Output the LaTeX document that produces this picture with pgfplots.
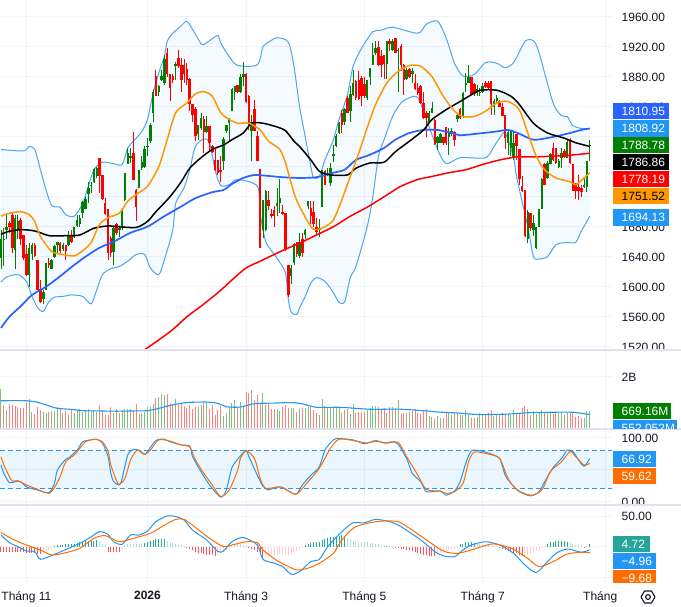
\documentclass[border=0pt]{standalone}
\usepackage{fontspec}
\setmainfont{Liberation Sans}
\usepackage{pgfplots}
\usepackage{pgfplotstable}
\pgfplotsset{compat=1.18}
\usepgfplotslibrary{fillbetween}

\definecolor{txt}{HTML}{131722}
\definecolor{gridc}{HTML}{F0F3FA}
\definecolor{sepc}{HTML}{E0E3EB}
\definecolor{cup}{HTML}{008000}
\definecolor{cdown}{HTML}{FF0000}
\definecolor{volup}{HTML}{7FBF7F}
\definecolor{voldown}{HTML}{FF8080}
\definecolor{bbline}{HTML}{4DA6EE}
\definecolor{ltblue}{HTML}{2196F3}
\definecolor{ma100}{HTML}{2962FF}
\definecolor{ma20}{HTML}{FF9800}
\definecolor{dorange}{HTML}{FF6D00}
\definecolor{histg}{HTML}{26A69A}
\definecolor{histlg}{HTML}{B2DFDB}
\definecolor{histr}{HTML}{FF5252}
\definecolor{histlr}{HTML}{FFCDD2}

% candles: bar index, open, high, low, close
\pgfplotstableread{
i o h l c
0 1638 1676 1623 1663
1 1662 1678 1627 1664
2 1676 1698 1663 1680
5 1649 1696 1623 1692
6 1676 1696 1663 1687
10 1616 1658 1600 1652
11 1643 1658 1636 1656
15 1584 1596 1577 1593
16 1596 1632 1596 1632
18 1624 1637 1623 1636
19 1640 1655 1638 1654
20 1656 1660 1645 1659
22 1650 1658 1647 1656
24 1655 1674 1654 1668
26 1666 1680 1665 1680
27 1681 1695 1680 1689
28 1683 1696 1680 1691
29 1698 1714 1691 1713
30 1704 1720 1703 1717
31 1724 1740 1712 1732
32 1734 1740 1725 1735
33 1740 1758 1738 1757
34 1747 1760 1745 1758
40 1646 1680 1629 1678
42 1676 1680 1666 1678
43 1678 1705 1676 1704
44 1716 1752 1714 1751
45 1764 1785 1763 1778
46 1772 1785 1765 1774
49 1732 1756 1731 1755
50 1758 1774 1756 1766
51 1760 1787 1758 1784
52 1786 1798 1774 1788
53 1794 1818 1792 1816
54 1832 1863 1820 1860
56 1860 1869 1854 1868
57 1876 1889 1874 1881
58 1872 1909 1869 1904
62 1894 1900 1876 1897
70 1803 1816 1796 1815
71 1811 1832 1809 1825
73 1806 1827 1805 1814
79 1767 1800 1755 1797
80 1808 1816 1805 1815
81 1818 1825 1794 1824
82 1834 1865 1834 1864
83 1860 1868 1849 1868
85 1860 1883 1858 1880
86 1880 1900 1867 1884
89 1808 1829 1767 1819
93 1675 1716 1665 1716
94 1675 1729 1674 1728
98 1707 1732 1694 1711
99 1712 1743 1698 1718
103 1614 1629 1603 1625
104 1632 1658 1629 1657
106 1641 1672 1638 1660
108 1669 1677 1663 1675
109 1707 1714 1703 1714
113 1676 1690 1666 1678
114 1706 1756 1706 1755
116 1749 1758 1747 1751
117 1738 1765 1734 1758
118 1774 1789 1766 1777
119 1787 1803 1786 1801
120 1805 1820 1804 1818
122 1819 1838 1816 1837
124 1834 1867 1820 1857
125 1856 1889 1854 1872
130 1852 1876 1849 1876
131 1880 1892 1869 1892
132 1896 1925 1895 1909
133 1912 1927 1909 1918
137 1897 1927 1877 1927
139 1916 1930 1914 1928
141 1914 1918 1860 1916
144 1877 1892 1876 1889
146 1883 1892 1872 1888
152 1820 1834 1818 1832
153 1832 1846 1831 1838
155 1791 1801 1782 1800
156 1792 1805 1791 1803
159 1800 1812 1776 1805
160 1804 1812 1801 1807
162 1823 1831 1820 1829
164 1826 1859 1825 1858
165 1869 1885 1859 1872
166 1872 1895 1872 1880
169 1858 1869 1854 1864
170 1858 1865 1854 1860
171 1859 1871 1858 1868
175 1840 1850 1829 1847
176 1847 1855 1845 1852
180 1792 1807 1776 1806
181 1785 1807 1774 1807
182 1772 1807 1769 1792
187 1664 1702 1658 1699
189 1675 1696 1667 1685
190 1652 1680 1650 1680
191 1680 1704 1680 1704
192 1704 1745 1703 1744
194 1745 1767 1744 1765
195 1764 1778 1763 1777
198 1760 1770 1758 1768
199 1772 1785 1758 1778
201 1772 1796 1772 1793
207 1733 1745 1732 1736
208 1733 1768 1726 1768
209 1787 1796 1768 1789
}\upbars

\pgfplotstableread{
i o h l c
3 1685 1687 1672 1680
4 1696 1698 1645 1652
7 1689 1691 1656 1663
8 1669 1669 1636 1638
9 1644 1656 1614 1616
12 1656 1658 1640 1641
13 1636 1636 1596 1596
14 1597 1609 1578 1579
17 1632 1638 1625 1629
21 1658 1660 1645 1647
23 1655 1656 1635 1648
25 1668 1676 1658 1659
35 1772 1772 1725 1747
36 1749 1749 1716 1717
37 1711 1718 1696 1697
38 1703 1703 1636 1645
39 1665 1668 1640 1645
41 1683 1685 1669 1672
47 1778 1806 1742 1742
48 1729 1730 1687 1706
55 1881 1889 1854 1854
59 1912 1918 1880 1883
60 1884 1884 1847 1865
61 1881 1884 1872 1876
63 1905 1916 1892 1894
64 1896 1905 1860 1876
65 1896 1903 1872 1883
66 1890 1898 1869 1876
67 1877 1878 1834 1843
68 1844 1844 1820 1829
69 1837 1840 1794 1801
72 1823 1827 1778 1806
74 1814 1814 1780 1792
75 1787 1789 1778 1780
76 1769 1783 1754 1755
77 1769 1769 1749 1752
78 1756 1774 1740 1753
84 1869 1869 1858 1860
87 1884 1885 1845 1846
88 1854 1855 1809 1815
90 1837 1849 1807 1808
91 1801 1807 1767 1767
92 1757 1757 1652 1652
95 1716 1727 1702 1708
96 1697 1703 1692 1694
97 1702 1707 1680 1694
100 1700 1709 1696 1697
101 1698 1698 1647 1649
102 1629 1629 1586 1589
105 1660 1660 1640 1643
107 1663 1672 1640 1645
110 1705 1714 1683 1694
111 1700 1714 1680 1684
112 1680 1692 1669 1673
115 1754 1756 1735 1736
121 1832 1836 1805 1816
123 1852 1854 1832 1832
126 1874 1876 1849 1852
127 1876 1888 1849 1850
128 1878 1881 1841 1854
129 1870 1880 1852 1854
134 1920 1927 1894 1895
135 1907 1916 1880 1896
136 1909 1909 1877 1897
138 1928 1930 1914 1923
140 1932 1932 1912 1912
142 1921 1923 1887 1896
143 1896 1897 1856 1876
145 1890 1892 1878 1880
147 1871 1883 1862 1864
148 1865 1872 1856 1858
149 1868 1869 1843 1845
150 1845 1859 1823 1825
151 1832 1834 1800 1825
154 1822 1823 1789 1790
157 1800 1800 1789 1791
158 1813 1813 1789 1791
161 1806 1807 1788 1795
163 1837 1838 1824 1825
167 1880 1880 1855 1856
168 1870 1872 1854 1857
172 1871 1874 1865 1866
173 1872 1874 1863 1865
174 1874 1874 1829 1843
177 1847 1849 1839 1840
178 1840 1845 1827 1828
179 1829 1829 1783 1798
183 1803 1803 1769 1787
184 1783 1783 1736 1743
185 1734 1747 1726 1728
186 1729 1729 1666 1667
188 1698 1698 1674 1678
193 1764 1765 1735 1735
196 1785 1791 1768 1769
197 1785 1785 1764 1765
200 1781 1783 1772 1773
202 1794 1798 1764 1765
203 1764 1764 1727 1728
204 1738 1738 1717 1727
205 1733 1749 1716 1727
206 1732 1735 1720 1726
}\downbars

% volume in billions
\pgfplotstableread{
i v
0 1.52
2 .73
10 1.13
11 .66
15 .66
16 .60
18 .69
19 .70
20 .83
22 .62
24 .54
26 .60
27 .73
28 .75
29 .66
30 .69
31 .75
32 .69
33 .73
34 .66
40 .62
42 .60
43 .73
44 .76
45 .75
46 .75
49 .56
50 .60
51 .66
52 .85
53 .85
54 .96
56 1.24
57 1.34
58 1.30
62 1.15
70 .83
71 .92
73 1.04
79 .50
80 .60
81 .79
82 .98
83 1.11
85 1.04
86 .85
89 1.49
93 1.39
94 .92
98 .75
99 .70
103 .79
104 .82
106 .75
108 .82
109 .85
113 .54
114 1.15
116 .83
117 .85
118 .83
119 .83
120 .79
122 .73
124 .57
125 .96
130 .73
131 .79
132 .88
133 .88
137 .62
139 .85
141 1.11
144 .62
146 .69
152 .50
153 .47
155 .50
156 .41
159 .62
160 .54
162 .60
164 .54
165 .73
166 .54
169 .47
170 .60
171 .57
175 .51
176 .54
180 .57
181 .54
182 .73
187 .75
189 .69
190 .57
191 .60
192 .73
194 .62
195 .66
198 .60
199 .64
201 .60
207 .43
208 .69
209 .67
}\volup

\pgfplotstableread{
i v
1 .92
3 .96
4 .92
5 .88
6 .83
7 .80
8 .79
9 1.01
12 .57
13 .85
14 .73
17 .66
21 .79
23 .69
25 .75
35 .92
36 .73
37 .54
38 .54
39 .83
41 .75
47 .70
48 .96
55 1.20
59 1.34
60 .98
61 .92
63 .92
64 .98
65 .88
66 .79
67 .92
68 .75
69 .85
72 .98
74 .75
75 .92
76 .54
77 .73
78 .88
84 .79
87 1.43
88 1.39
90 1.11
91 1.30
92 .98
95 .98
96 .75
97 .75
100 .85
101 .92
102 .79
105 .66
107 .79
110 .83
111 .73
112 .60
115 .89
121 .62
123 .75
126 .60
127 .64
128 .66
129 .66
134 .85
135 .73
136 .79
138 .83
140 .79
142 .57
143 .60
145 .66
147 .75
148 .62
149 .57
150 .73
151 .75
154 .37
157 .43
158 .60
161 .66
163 .54
167 .41
168 .43
172 .57
173 .62
174 .73
177 .54
178 .60
179 .56
183 .62
184 .60
185 .79
186 .88
188 .54
193 .66
196 .56
197 .66
200 .54
202 .60
203 .66
204 .47
205 .50
206 .41
}\voldown

\newcommand{\pricetag}[6]{%
  \fill[#4] (613pt,-#1pt) rectangle (#3pt,-#2pt);
  \node[anchor=west,inner sep=0pt,text=#5,font=\fontsize{12}{14}\selectfont] at (621.5pt,{-(#1+#2)/2*1pt}) {#6};
}

\pgfplotsset{
  panel/.style={
    anchor=north west, scale only axis, width=612pt,
    xmin=-0.355, xmax=216.9,
    xtick={9,52,87,129,171,214.5}, xticklabels={},
    grid=major, grid style={draw=gridc,line width=0.8pt},
    axis line style={draw=none}, major tick length=0pt,
    yticklabel pos=right,
    yticklabel style={anchor=west,inner sep=0pt,xshift=9.5pt,yshift=-0.7pt,text=txt,
      font=\fontsize{12}{14}\selectfont},
  },
  ln/.style={smooth,tension=0.45,line join=round},
  wick/.style={draw=none,no markers,forget plot,
    error bars/y dir=plus,error bars/y explicit,error bars/error mark=none,
    error bars/error bar style={draw=#1,line width=0.9pt}},
  body/.style={draw=none,no markers,forget plot,
    error bars/y dir=plus,error bars/y explicit,error bars/error mark=none,
    error bars/error bar style={draw=#1,line width=2.5pt}},
}

\begin{document}
\begin{tikzpicture}

% price panel
\begin{axis}[panel, at={(0pt,0pt)}, height=350pt,
  ymin=1515.6, ymax=1982.3, ytick={1520,1560,...,1960},
  yticklabels={1520.00,1560.00,1600.00,1640.00,1680.00,,,,1840.00,1880.00,1920.00,1960.00}]
\addplot[name path=bbup, bbline, ln, line width=1pt] coordinates {
(0,1783)(8,1781)(10,1787)(12,1783)(14,1756)(16,1729)(18,1708)(21,1706)(23,1696)(26,1694)
(29,1711)(31,1734)(33,1756)(36,1766)(40,1764)(43,1763)(45,1785)(47,1794)(50,1807)(52,1823)
(54,1858)(56,1885)(58,1907)(59,1927)(61,1938)(64,1948)(66,1954)(68,1943)(71,1924)(72,1923)
(74,1928)(77,1935)(78,1925)(81,1907)(84,1895)(91,1896)(93,1920)(95,1926)(98,1932)(102,1926)
(104,1894)(106,1840)(108,1800)(110,1760)(111,1745)(113,1747)(115,1769)(118,1796)(120,1823)
(123,1856)(125,1894)(128,1918)(132,1940)(135,1942)(139,1946)(148,1938)(151,1950)(155,1954)
(158,1932)(161,1898)(164,1881)(168,1883)(172,1899)(176,1898)(179,1892)(182,1899)(186,1927)
(189,1928)(191,1912)(196,1845)(199,1828)(201,1827)(203,1815)(206,1811)(209,1811)};
\addplot[name path=bblo, bbline, ln, line width=1pt] coordinates {
(0,1606)(2,1613)(6,1616)(9,1607)(11,1587)(13,1572)(15,1567)(17,1580)(19,1586)(22,1587)
(25,1589)(29,1587)(32,1577)(34,1596)(36,1616)(39,1624)(42,1627)(45,1634)(48,1643)(51,1643)
(53,1625)(56,1616)(58,1636)(61,1676)(62,1711)(65,1732)(67,1756)(69,1787)(72,1797)(74,1792)
(76,1756)(78,1735)(81,1736)(84,1743)(91,1734)(92,1698)(94,1660)(98,1638)(101,1618)(102,1583)
(103,1566)(105,1563)(106,1572)(108,1587)(110,1605)(112,1612)(115,1607)(118,1592)(120,1579)
(122,1580)(124,1612)(126,1627)(130,1680)(132,1720)(134,1774)(136,1796)(139,1827)(142,1845)
(145,1852)(148,1852)(151,1823)(155,1783)(158,1764)(163,1772)(172,1772)(175,1787)(177,1798)
(179,1805)(182,1772)(183,1747)(187,1680)(189,1640)(191,1637)(194,1640)(197,1656)(201,1659)
(204,1659)(206,1674)(208,1687)(209,1694)};
\addplot[ltblue, fill opacity=0.05, draw=none] fill between[of=bbup and bblo];

% wicks
\addplot[wick=cup] table[x=i, y=l, y error expr=\thisrow{h}-\thisrow{l}] {\upbars};
\addplot[wick=cdown] table[x=i, y=l, y error expr=\thisrow{h}-\thisrow{l}] {\downbars};
% bodies
\addplot[body=cup] table[x=i, y=o, y error expr=\thisrow{c}-\thisrow{o}] {\upbars};
\addplot[body=cdown] table[x=i, y=c, y error expr=\thisrow{o}-\thisrow{c}] {\downbars};

% red long average
\addplot[cdown, ln, line width=1.5pt] coordinates {
(51,1516)(56,1529)(61,1543)(66,1560)(71,1574)(77,1592)(82,1609)(87,1625)(92,1634)(97,1643)
(101,1650)(106,1658)(112,1669)(118,1680)(124,1694)(130,1706)(136,1720)(142,1734)(148,1743)
(153,1747)(159,1752)(165,1756)(171,1763)(177,1769)(183,1773)(189,1773)(195,1774)(201,1775)(209,1778)};
% blue
\addplot[ma100, ln, line width=1.7pt] coordinates {
(0,1545)(3,1560)(7,1574)(11,1589)(16,1600)(21,1614)(26,1629)(30,1640)(35,1652)(40,1660)
(46,1672)(52,1680)(58,1694)(64,1707)(69,1718)(75,1726)(79,1729)(82,1737)(86,1745)(90,1749)
(94,1748)(100,1746)(106,1745)(112,1746)(118,1752)(122,1756)(126,1769)(131,1776)(136,1785)
(140,1796)(145,1805)(150,1809)(155,1809)(160,1805)(163,1802)(169,1804)(176,1807)(180,1809)
(184,1804)(189,1796)(195,1799)(201,1804)(206,1809)(209,1811)};
% black
\addplot[black, ln, line width=1.5pt] coordinates {
(0,1670)(3,1674)(7,1676)(11,1675)(14,1672)(17,1668)(23,1668)(28,1669)(33,1678)(38,1681)
(42,1680)(48,1679)(52,1687)(55,1700)(60,1720)(64,1740)(67,1758)(71,1772)(75,1783)(79,1789)
(82,1796)(86,1805)(89,1818)(93,1818)(98,1813)(101,1808)(104,1794)(106,1787)(110,1769)
(113,1754)(117,1749)(123,1749)(126,1758)(131,1765)(136,1766)(140,1780)(145,1794)(150,1809)
(153,1823)(158,1836)(163,1847)(167,1856)(170,1862)(176,1862)(181,1854)(184,1843)(189,1818)
(194,1805)(200,1798)(204,1792)(209,1787)};
% orange
\addplot[ma20, ln, line width=1.5pt] coordinates {
(0,1694)(3,1698)(7,1700)(10,1696)(12,1687)(14,1667)(18,1647)(22,1643)(26,1641)(29,1648)
(32,1659)(35,1683)(38,1692)(42,1698)(45,1714)(48,1723)(52,1734)(56,1760)(59,1796)(62,1832)
(66,1845)(69,1857)(72,1860)(75,1854)(78,1832)(81,1823)(84,1818)(88,1818)(92,1809)(95,1794)
(99,1783)(101,1765)(104,1725)(106,1707)(110,1680)(112,1676)(115,1680)(118,1689)(121,1716)
(124,1747)(127,1778)(130,1812)(133,1843)(137,1872)(141,1887)(145,1895)(149,1894)(153,1880)
(157,1854)(161,1834)(164,1827)(168,1827)(172,1834)(176,1845)(180,1847)(184,1836)(187,1805)
(190,1774)(193,1756)(197,1745)(202,1740)(204,1736)(207,1745)(209,1752)};
\end{axis}

% volume panel
\begin{axis}[panel, at={(0pt,-350pt)}, height=79pt,
  ymin=0, ymax=3.02, ytick={2}, yticklabels={2B}]
\addplot[ycomb, voldown, line width=1pt] table[x=i,y=v] {\voldown};
\addplot[ycomb, volup, line width=1pt] table[x=i,y=v] {\volup};
\addplot[ltblue, ln, line width=1.1pt] coordinates {
(0,1.08)(9,1.08)(13,1.02)(16,.92)(20,.79)(25,.75)(29,.70)(35,.69)(41,.68)(47,.69)(52,.70)
(55,.76)(60,.90)(66,1.01)(73,1.03)(77,.98)(80,.85)(85,.84)(90,.97)(97,.99)(103,1.01)(107,.96)
(112,.83)(120,.83)(126,.79)(132,.75)(141,.76)(150,.70)(155,.65)(162,.61)(168,.56)(171,.55)
(180,.57)(187,.62)(196,.64)(203,.64)(209,.55)};
\end{axis}

% stochastic panel
\begin{axis}[panel, at={(0pt,-429pt)}, height=76pt,
  ymin=-5.2, ymax=112.9, ytick={0,50,100}, yticklabels={0.00,,100.00}]
\addplot[draw=none, fill=ltblue, fill opacity=0.09] coordinates {
(-0.355,20)(216.9,20)(216.9,80)(-0.355,80)} -- cycle;
\addplot[ltblue, line width=0.9pt, dash pattern=on 5pt off 3pt] coordinates {(-0.355,80)(216.9,80)};
\addplot[ltblue, line width=0.9pt, dash pattern=on 5pt off 3pt] coordinates {(-0.355,20)(216.9,20)};
\addplot[ltblue, ln, line width=1pt] coordinates {
(0,57)(1,44)(3,29.5)(5,31)(7,31)(9,23)(13,18)(17,14)(19,28.5)(20,49)(23,66)(24,68)(27,80)
(29,93)(32,96)(34,97)(36,91)(38,70)(39,44)(40,31)(42,26)(43,36)(45,72.5)(47,81)(49,80)(51,73.5)
(52,78)(55,95)(58,97)(60,93)(64,88)(67,86.5)(68,70)(71,46.6)(73,32.6)(75,20.7)(78,7)(80,18)
(82,53)(85,71)(87,80)(88,70)(91,41)(93,24)(95,18)(97,22)(100,22)(103,14)(105,12)(107,26)
(110,41)(113,54)(115,80)(118,96)(120,98)(125,96)(129,90)(133,95)(136,91)(139,93)(141,89)
(144,67)(146,44)(149,31)(151,15.5)(156,16.6)(158,10)(161,16.6)(163,31)(165,60)(167,79)(170,79)
(174,74)(177,67)(179,41)(181,28.5)(184,15.5)(188,9)(191,15.5)(193,31)(196,53)(199,67)(201,80)
(203,78)(205,65)(207,55)(209,67)};
\addplot[dorange, ln, line width=1pt] coordinates {
(0,70)(1,57)(3,39)(4,32)(6,32.6)(9,26)(13,19)(17,13)(19,22)(21,39)(23,62)(26,72.5)(28,83)
(30,93)(33,97)(36,93)(38,78)(39,57)(41,32.6)(42,27)(44,36)(46,65)(48,79)(49,79)(51,73.5)(53,80)
(56,96)(60,94)(64,88)(67,85)(69,65)(72,44)(75,26)(78,8)(81,18)(84,49)(85,67)(87,79)(90,67)
(92,36)(94,20.7)(99,23)(102,16.6)(105,12)(109,31)(113,52)(117,83)(120,97)(125,95)(130,91)
(133,94)(137,91)(141,92)(144,70)(148,41)(151,19)(156,16.6)(158,13)(161,15.5)(164,28.5)(166,62)
(168,77)(173,74)(177,67)(180,36)(183,19)(188,10)(192,18)(195,46.6)(199,62)(202,78)(204,70)
(207,57)(209,59.6)};
\end{axis}

% macd panel
\begin{axis}[panel, at={(0pt,-505pt)}, height=77pt,
  ymin=-57.6, ymax=67.9, ytick={-50,0,50}, yticklabels={,,50.00},
  xticklabels={Tháng 11,\textbf{2026},Tháng 3,Tháng 5,Tháng 7,Tháng\phantom{\ 9}},
  xticklabel style={inner sep=0pt,yshift=-9pt,text=txt,font=\fontsize{12}{14}\selectfont}]
\addplot[ycomb, histr, line width=1pt] coordinates {
(0,-8)(1,-8)(2,-9)(3,-9)(4,-9)(5,-9)(6,-8)(7,-8)(8,-8)(9,-11)(10,-11)(11,-11)(12,-10)(13,-12)(14,-12)
(38,-8)(39,-9)(40,-9)(41,-9)(42,-8)
(66,-2)(67,-4)(68,-6)(69,-8)(70,-10)(71,-11)(72,-12)(73,-13)(74,-13)(75,-14)(76,-15)
(88,-2)(89,-4)(90,-6)(91,-8)(92,-12)(93,-20)
(140,-1)(141,-2)(142,-3)(143,-4)(144,-5)(145,-6)(146,-7)(147,-9)(148,-10)(149,-12)(150,-13)(151,-14)(152,-15)(153,-15)(154,-15)
(177,-1)(178,-3)(179,-5)(180,-7)(181,-9)(182,-10)(183,-11)(184,-13)(185,-15)(207,-2)};
\addplot[ycomb, histlr, line width=1pt] coordinates {
(15,-9)(16,-7)(17,-5)(18,-3)(43,-3)(77,-14)(78,-11)(79,-8)(80,-5)(81,-3)
(94,-17)(95,-15)(96,-14)(97,-13)(98,-12)(99,-12)(100,-13)(101,-14)(102,-14)(103,-12)(104,-9)(105,-7)(106,-5)(107,-2)
(155,-13)(156,-11)(157,-9)(158,-7)(159,-6)(160,-4)(161,-3)(162,-2)
(186,-16)(187,-14)(188,-12)(189,-10)(190,-7)(191,-5)(192,-2)(193,-1)};
\addplot[ycomb, histg, line width=1pt] coordinates {
(19,1)(20,2)(21,3)(22,3)(23,4)(24,4)(25,5)(26,5)(27,6)(28,7)(29,8)(30,9)(31,9)(32,9)(33,10)(34,11)
(51,6)(52,7)(53,9)(54,11)(55,12)(56,12)(57,12)(58,12)
(108,3)(109,5)(110,6)(111,7)(112,7)(113,8)(114,11)(115,13)(116,14)(117,15)(118,15)(119,16)(120,17)(121,19)(122,17)
(137,1)(163,4)(164,5)(165,7)(166,7)(167,7)(168,6)
(194,5)(195,7)(196,8)(197,9)(198,10)(199,10)(200,9)(201,8)(209,4.72)};
\addplot[ycomb, histlg, line width=1pt] coordinates {
(35,9)(36,5)(37,2)(44,3)(45,4)(46,4)(47,4)(48,4)(49,4)(50,4)
(59,10)(60,8)(61,6)(62,4)(63,3)(64,2)(65,1)(82,1)(83,3)(84,4)(85,4)(86,3)(87,1)
(123,14)(124,12)(125,10)(126,9)(127,8)(128,8)(129,7)(130,7)(131,6)(132,6)(133,5)(134,4)(135,3)(136,2)(138,1)(139,0.5)
(169,5)(170,4)(171,3)(172,3)(173,2)(174,1)(175,1)(176,0.5)
(202,6)(203,4)(204,3)(205,2)(206,2)(208,1.5)};
\addplot[ltblue, ln, line width=1pt] coordinates {
(0,19)(3,6.5)(6,0)(9,-7)(12,-8)(14,-20.6)(19,-12.5)(24,-2.7)(28,5.4)(32,16)(35,24.4)(38,20)(40,8)
(43,3.8)(46,19)(49,19)(52,25.5)(55,40.7)(59,50)(62,49)(65,43.4)(68,27)(73,11)(77,-8)(79,-7)(82,8)
(86,15)(91,2.7)(93,-20.6)(97,-27)(100,-32.6)(103,-45)(106,-40.7)(110,-24.4)(113,-20.6)(116,0)(120,20)
(123,32.6)(125,39)(129,39)(133,44.5)(138,40.7)(142,32.6)(149,11)(154,-8)(157,-15)(161,-16.3)(164,-5.4)
(167,2.7)(172,8)(177,2.7)(182,-11)(186,-30)(190,-42)(194,-24.4)(197,-11)(201,-3.8)(206,-9)(209,-5)};
\addplot[dorange, ln, line width=1pt] coordinates {
(0,23)(4,12.5)(9,2.7)(14,-5.4)(18,-13.6)(23,-9.8)(28,-2.7)(33,13.6)(37,18)(42,8)(47,13.6)(53,21.7)
(58,35)(62,44.5)(65,44.5)(68,35)(74,13.6)(79,0)(82,2.7)(87,8)(91,6.5)(93,-5.4)(98,-22.8)(101,-30)
(105,-38)(109,-35)(113,-27)(118,-11)(120,4)(123,21.7)(126,32.6)(131,39)(136,41.8)(141,40.7)(145,30)
(151,11)(157,-7)(162,-11)(168,-3.8)(174,4.3)(178,2)(182,-4.3)(187,-19)(191,-32.6)(196,-24.4)(201,-12)
(206,-9.2)(209,-9.7)};
\end{axis}

% panel separators
\draw[sepc,line width=1.4pt] (0pt,-350pt) -- (681pt,-350pt);
\draw[sepc,line width=1.4pt] (0pt,-429pt) -- (681pt,-429pt);
\draw[sepc,line width=1.4pt] (0pt,-505pt) -- (681pt,-505pt);

% value tags
\pricetag{103}{119.5}{669}{ma100}{white}{1810.95}
\pricetag{120}{136.7}{669}{ltblue}{white}{1808.92}
\pricetag{137.5}{153}{669}{cup}{white}{1788.78}
\pricetag{154}{170.5}{669}{black}{white}{1786.86}
\pricetag{171.5}{187}{669}{cdown}{white}{1778.19}
\pricetag{188}{204}{669}{ma20}{black}{1751.52}
\pricetag{209}{225.6}{669}{ltblue}{white}{1694.13}
\pricetag{403}{419.3}{671}{cup}{white}{669.16M}
\begin{scope}
\clip (600pt,-420pt) rectangle (681pt,-428.4pt);
\pricetag{420}{436.5}{677}{ltblue}{white}{552.052M}
\end{scope}
\pricetag{450.7}{467.3}{656}{ltblue}{white}{66.92}
\pricetag{467.7}{484.3}{656}{dorange}{white}{59.62}
\pricetag{536}{552.3}{650}{histg}{white}{4.72}
\pricetag{553}{569.3}{656}{ltblue}{white}{−4.96}
\begin{scope}
\clip (600pt,-570pt) rectangle (681pt,-582pt);
\pricetag{570}{586.5}{656}{dorange}{white}{−9.68}
\end{scope}

% settings icon
\draw[txt,line width=1.1pt,line join=round] (655pt,-597pt) -- (651.5pt,-591pt) -- (644.5pt,-591pt)
  -- (641pt,-597pt) -- (644.5pt,-603pt) -- (651.5pt,-603pt) -- cycle;
\draw[txt,line width=1.1pt] (648pt,-597pt) circle (2.4pt);

\pgfresetboundingbox
\path[use as bounding box] (0pt,0pt) rectangle (681pt,-607pt);
\end{tikzpicture}
\end{document}
